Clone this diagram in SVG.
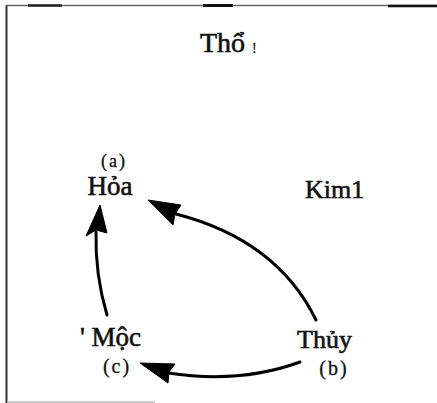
<svg xmlns="http://www.w3.org/2000/svg" width="437" height="403" viewBox="0 0 437 403">
<style>
.name{font-family:"Liberation Serif","Times New Roman",serif;fill:#111;stroke:#111;stroke-width:0.6}
.lab{font-family:"Liberation Serif","Times New Roman",serif;fill:#111;stroke:#111;stroke-width:0.3;letter-spacing:2px}
.edge{fill:none;stroke:#000;stroke-width:3;stroke-linecap:round}
.head{fill:#000;stroke:#000;stroke-width:1;stroke-linejoin:round}
</style>
<rect width="437" height="403" fill="#fff"/>
<g id="frame">
<line x1="6.5" y1="5" x2="6.5" y2="403" stroke="#333" stroke-width="2"/>
<line x1="6" y1="5.5" x2="437" y2="5.5" stroke="#666" stroke-width="1.5"/>
<line x1="28" y1="5.5" x2="62" y2="5.5" stroke="#222" stroke-width="2.5"/>
<line x1="203" y1="5.5" x2="233" y2="5.5" stroke="#111" stroke-width="3"/>
<line x1="388" y1="6" x2="437" y2="6" stroke="#111" stroke-width="2.5"/>
<line x1="7" y1="402" x2="155" y2="402" stroke="#bbb" stroke-width="1.5"/>
</g>
<g id="tho">
<text class="name" x="200" y="52" font-size="28">Thổ</text>
<text class="lab" x="252" y="53" font-size="14">!</text>
</g>
<g id="hoa">
<text class="lab" x="114" y="167" font-size="18" text-anchor="middle">(a)</text>
<text class="name" x="110" y="195" font-size="27" text-anchor="middle">Hỏa</text>
</g>
<g id="kim">
<text class="name" x="305" y="198" font-size="26">Kim1</text>
</g>
<g id="moc">
<text class="name" x="80" y="346" font-size="27">' Mộc</text>
<text class="lab" x="117" y="373" font-size="20" text-anchor="middle">(c)</text>
</g>
<g id="thuy">
<text class="name" x="297" y="348" font-size="26">Thủy</text>
<text class="lab" x="334" y="375" font-size="20" text-anchor="middle">(b)</text>
</g>
<g id="connectors">
<path class="edge" d="M316,320 Q277,240 176,214"/>
<polygon class="head" points="148,200 181,205 175,214 173,225"/>
<path class="edge" d="M107,315 Q95,275 96,232"/>
<polygon class="head" points="100,205 107,233 96,230 86,236"/>
<path class="edge" d="M300,362 Q240,384 168,373"/>
<polygon class="head" points="140,363 175,364 169,372 168,383"/>
</g>
</svg>
